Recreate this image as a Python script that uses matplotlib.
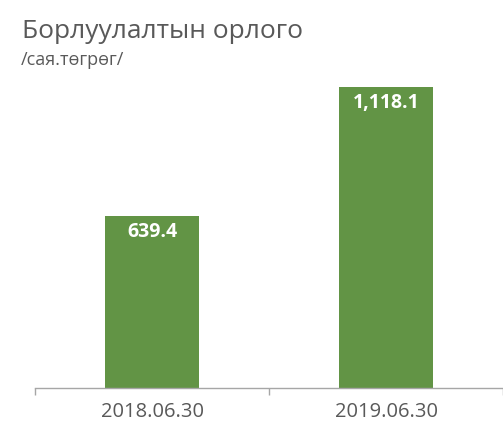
import matplotlib.pyplot as plt

# data
categories = ['2018.06.30', '2019.06.30']
values = [639.4, 1118.1]
value_labels = ['639.4', '1,118.1']

plt.rcParams['font.family'] = ['Open Sans', 'DejaVu Sans']

fig = plt.figure(figsize=(5.03, 4.22), dpi=100)
ax = fig.add_axes([35 / 503, 1 - 388 / 422, 1 - 35 / 503, (388 - 65) / 422])

x = range(len(categories))
bars = ax.bar(x, values, width=0.4, color='#629445')

for b, lab in zip(bars, value_labels):
    ax.text(b.get_x() + b.get_width() / 2, b.get_height() - 16 / 0.269,
            lab, ha='center', va='center', color='white',
            fontsize=14, fontweight='bold')

ax.set_xlim(-0.5, 1.46)
ax.set_ylim(0, 1200)
ax.set_yticks([])
ax.set_xticks(list(x))
ax.set_xticklabels(categories, fontsize=14.5, color='#595959')
ax.set_xticks([-0.5, 0.5, 1.5], minor=True)
ax.tick_params(axis='x', which='major', length=0, pad=10)
ax.tick_params(axis='x', which='minor', length=5, color='#a6a6a6', width=1)
for s in ['top', 'right', 'left']:
    ax.spines[s].set_visible(False)
ax.spines['bottom'].set_color('#a6a6a6')
ax.spines['bottom'].set_linewidth(1)
ax.tick_params(axis='x', which='minor', direction='out')

fig.text(22 / 503, 1 - 31 / 422, 'Борлуулалтын орлого', fontsize=19,
         color='#595959', va='center', ha='left')
fig.text(21 / 503, 1 - 60 / 422, '/сая.төгрөг/', fontsize=13,
         color='#595959', va='center', ha='left')

fig.savefig('out.png', dpi=100)
